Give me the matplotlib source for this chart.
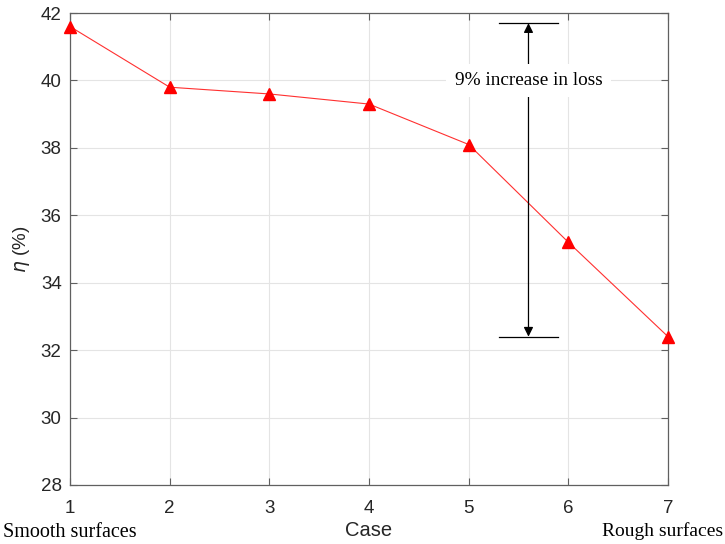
import matplotlib
matplotlib.use("Agg")
import matplotlib.pyplot as plt

cases = [1, 2, 3, 4, 5, 6, 7]
efficiency = [41.6, 39.8, 39.6, 39.3, 38.1, 35.2, 32.4]
x_ticks = [1, 2, 3, 4, 5, 6, 7]
y_ticks = [28, 30, 32, 34, 36, 38, 40, 42]

# span of the loss annotation
arrow_x = 5.6
bracket = (5.3, 5.9)
loss_top, loss_bottom = 41.7, 32.4
loss_text = "9% increase in loss"

fig = plt.figure(figsize=(7.25, 5.44), dpi=100)
ax = fig.add_axes([0.0966, 0.1085, 0.8248, 0.8675])

ax.plot(cases, efficiency, color="#ff3030", lw=0.8, marker="^", ms=8.5,
        markerfacecolor="red", markeredgecolor="red", zorder=3, clip_on=False)

ax.set_xlim(1, 7)
ax.set_ylim(28, 42)
ax.set_xticks(x_ticks)
ax.set_yticks(y_ticks)
ax.grid(True, color="#e4e4e4", lw=0.8)
ax.set_axisbelow(True)

ax.tick_params(direction="in", top=True, right=True, length=5, width=0.8,
               colors="#606060", labelcolor="#262626", labelsize=13.5,
               labelfontfamily="Liberation Sans")
ax.tick_params(axis="x", pad=11)
ax.tick_params(axis="y", pad=6)
for s in ax.spines.values():
    s.set_color("#606060")
    s.set_linewidth(0.9)

ax.set_xlabel("Case", fontsize=14.5, family="Liberation Sans", color="#262626", labelpad=3)
ax.set_ylabel(r"$\eta$ (%)", fontsize=13.5, family="Liberation Sans", color="#262626", labelpad=6)

# bracketed double arrow showing the loss increase
ax.plot(bracket, [loss_top, loss_top], color="black", lw=0.9, zorder=4)
ax.plot(bracket, [loss_bottom, loss_bottom], color="black", lw=0.9, zorder=4)
ax.annotate("", xy=(arrow_x, loss_top), xytext=(arrow_x, loss_bottom),
            arrowprops=dict(arrowstyle="<|-|>", color="black", lw=0.9,
                            mutation_scale=14, shrinkA=0, shrinkB=0), zorder=4)
ax.text(arrow_x, 40.0, loss_text, ha="center", va="center", fontsize=13.9,
        family="Liberation Serif", zorder=5,
        bbox=dict(facecolor="white", edgecolor="none", pad=6))

fig.text(0.004, 0.004, "Smooth surfaces", ha="left", va="bottom", fontsize=14.5,
         family="Liberation Serif")
fig.text(0.997, 0.008, "Rough surfaces", ha="right", va="bottom", fontsize=14,
         family="Liberation Serif")

fig.savefig("out.png", dpi=100)
